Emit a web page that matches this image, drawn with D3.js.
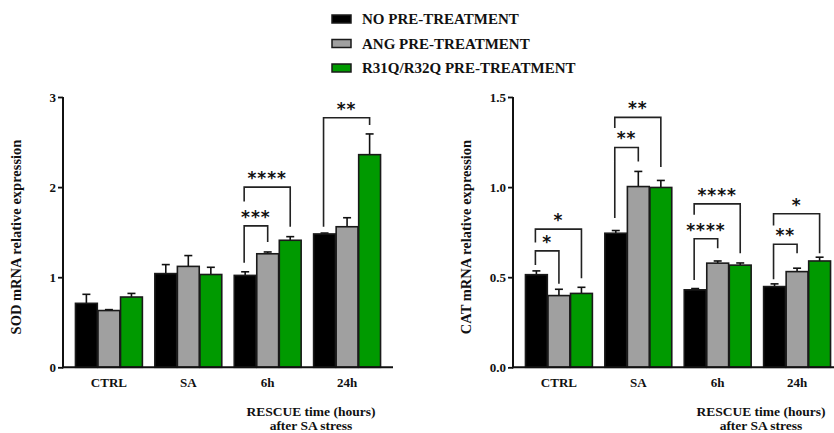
<!DOCTYPE html>
<html>
<head>
<meta charset="utf-8">
<script src="https://cdn.jsdelivr.net/npm/d3@7"></script>
<style>
  html, body { margin: 0; padding: 0; background: #fff; }
  svg { display: block; }
  text { font-family: "Liberation Serif", "DejaVu Serif", serif; font-weight: bold; fill: #111; }
</style>
</head>
<body>
<svg id="chart" width="834" height="433"></svg>
<script>
// Timepoints and treatment groups
const categories = ["CTRL", "SA", "6h", "24h"];
const seriesNames = ["NO PRE-TREATMENT", "ANG PRE-TREATMENT", "R31Q/R32Q PRE-TREATMENT"];
const seriesColors = ["#000000", "#a0a0a0", "#009a00"];

// SOD mRNA: mean and upper error per group
const sodNo   = [0.71, 1.04, 1.02, 1.48];
const sodAng  = [0.63, 1.12, 1.26, 1.56];
const sodR31Q = [0.78, 1.03, 1.41, 2.36];
const sodNoErr   = [0.81, 1.14, 1.06, 1.49];
const sodAngErr  = [0.64, 1.24, 1.28, 1.66];
const sodR31QErr = [0.82, 1.11, 1.45, 2.59];
const sodTicks = [0, 1, 2, 3];

// CAT mRNA: mean and upper error per group
const catNo   = [0.514, 0.744, 0.430, 0.448];
const catAng  = [0.398, 1.003, 0.578, 0.531];
const catR31Q = [0.410, 0.998, 0.567, 0.590];
const catNoErr   = [0.535, 0.759, 0.437, 0.463];
const catAngErr  = [0.433, 1.087, 0.590, 0.550];
const catR31QErr = [0.444, 1.037, 0.579, 0.611];
const catTicks = [0.0, 0.5, 1.0, 1.5];

// Significance brackets: [category, from series, to series, top, left leg end, right leg end, stars]
const sodBrackets = [
  ["6h", 0, 1, 1.57, 1.16, 1.39, "***"],
  ["6h", 0, 2, 2.00, 1.84, 1.56, "****"],
  ["24h", 0, 2, 2.77, 1.56, 2.69, "**"]
];
const catBrackets = [
  ["CTRL", 0, 1, 0.646, 0.568, 0.463, "*"],
  ["CTRL", 0, 2, 0.767, 0.692, 0.494, "*"],
  ["SA", 0, 1, 1.220, 0.828, 1.142, "**"],
  ["SA", 0, 2, 1.387, 1.328, 1.111, "**"],
  ["6h", 0, 1, 0.713, 0.485, 0.661, "****"],
  ["6h", 0, 2, 0.907, 0.846, 0.633, "****"],
  ["24h", 0, 1, 0.683, 0.489, 0.633, "**"],
  ["24h", 0, 2, 0.852, 0.787, 0.633, "*"]
];

const svg = d3.select("#chart");

function drawPanel(opts) {
  const g = svg.append("g");
  const x = d3.scaleBand().domain(categories)
    .range([opts.x0, opts.x0 + 330]).paddingInner(0.157).paddingOuter(0.157);
  const xs = d3.scaleBand().domain(d3.range(seriesNames.length))
    .range([0, x.bandwidth()]).paddingInner(0.03);
  const y = d3.scaleLinear().domain(opts.domain).range([367.3, 97]);

  const values = [opts.no, opts.ang, opts.r31q];
  const errs = [opts.noErr, opts.angErr, opts.r31qErr];

  const rows = [];
  categories.forEach((c, ci) => {
    seriesNames.forEach((s, si) => {
      rows.push({ c, si, v: values[si][ci], e: errs[si][ci] });
    });
  });

  // error bars (upper only)
  const eb = g.append("g").attr("stroke", "#111").attr("stroke-width", 1.6);
  rows.forEach(d => {
    const cx = x(d.c) + xs(d.si) + xs.bandwidth() / 2;
    eb.append("line").attr("x1", cx).attr("x2", cx).attr("y1", y(d.v)).attr("y2", y(d.e));
    eb.append("line").attr("x1", cx - 4).attr("x2", cx + 4).attr("y1", y(d.e)).attr("y2", y(d.e));
  });

  // bars
  g.append("g").selectAll("rect").data(rows).join("rect")
    .attr("x", d => x(d.c) + xs(d.si))
    .attr("width", xs.bandwidth())
    .attr("y", d => y(d.v))
    .attr("height", d => y(opts.domain[0]) - y(d.v))
    .attr("fill", d => seriesColors[d.si])
    .attr("stroke", "#1a1a1a")
    .attr("stroke-width", 1.6);

  // axes
  const yAxis = d3.axisLeft(y).tickValues(opts.ticks).tickSize(5).tickFormat(opts.fmt);
  const ya = g.append("g").attr("transform", `translate(${opts.x0},0)`).call(yAxis);
  ya.select(".domain").attr("stroke", "#111").attr("stroke-width", 2)
    .attr("d", `M0,${y(opts.domain[1])}V${y(opts.domain[0]) + 1}`);
  ya.selectAll(".tick line").attr("stroke", "#111").attr("stroke-width", 1.8);
  ya.selectAll(".tick text").attr("x", -7).style("font-size", "13px")
    .style("font-family", "Liberation Serif").style("font-weight", "bold").attr("fill", "#111");

  const xAxis = d3.axisBottom(x).tickSize(0).tickPadding(10);
  const xa = g.append("g").attr("transform", `translate(0,${y(opts.domain[0])})`).call(xAxis);
  xa.select(".domain").attr("stroke", "#111").attr("stroke-width", 2)
    .attr("d", `M${opts.x0 - 1},0H${opts.x0 + 330}`);
  xa.selectAll(".tick text").style("font-size", "13px")
    .style("font-family", "Liberation Serif").style("font-weight", "bold").attr("fill", "#111");

  // axis titles
  g.append("text")
    .attr("transform", `translate(${opts.x0 - 45},237) rotate(-90)`)
    .attr("text-anchor", "middle").attr("dominant-baseline", "middle")
    .style("font-size", "14.5px").text(opts.yTitle);
  g.append("text").attr("x", opts.x0 + 248).attr("y", 416)
    .attr("text-anchor", "middle").style("font-size", "13.5px").text("RESCUE time (hours)");
  g.append("text").attr("x", opts.x0 + 248).attr("y", 429.5)
    .attr("text-anchor", "middle").style("font-size", "13.5px").text("after SA stress");

  // significance brackets
  const bg = g.append("g");
  opts.brackets.forEach(b => {
    const [c, s1, s2, top, l1, l2, stars] = b;
    const xl = x(c) + xs(s1) + xs.bandwidth() / 2 - 1;
    const xr = x(c) + xs(s2) + xs.bandwidth() / 2;
    bg.append("path")
      .attr("d", `M${xl},${y(l1)}V${y(top)}H${xr}V${y(l2)}`)
      .attr("fill", "none").attr("stroke", "#222").attr("stroke-width", 1.6);
    bg.append("text").attr("x", (xl + xr) / 2).attr("y", y(top) - 3)
      .attr("text-anchor", "middle").style("font-size", "17px")
      .style("font-family", "DejaVu Sans").style("font-weight", "bold")
      .style("letter-spacing", "1px")
      .text(stars);
  });
}

drawPanel({
  x0: 63, domain: [0, 3], ticks: sodTicks, fmt: d3.format("d"),
  no: sodNo, ang: sodAng, r31q: sodR31Q,
  noErr: sodNoErr, angErr: sodAngErr, r31qErr: sodR31QErr,
  brackets: sodBrackets, yTitle: "SOD mRNA relative expression"
});
drawPanel({
  x0: 513, domain: [0, 1.5], ticks: catTicks, fmt: d3.format(".1f"),
  no: catNo, ang: catAng, r31q: catR31Q,
  noErr: catNoErr, angErr: catAngErr, r31qErr: catR31QErr,
  brackets: catBrackets, yTitle: "CAT mRNA relative expression"
});

// legend
const lg = svg.append("g").attr("transform", "translate(332,19)");
seriesNames.forEach((s, i) => {
  const row = lg.append("g").attr("transform", `translate(0,${i * 24.5})`);
  row.append("rect").attr("x", 0).attr("y", -4).attr("width", 19).attr("height", 8)
    .attr("fill", seriesColors[i]).attr("stroke", "#1a1a1a").attr("stroke-width", 1.5);
  row.append("text").attr("x", 30).attr("y", 0).attr("dominant-baseline", "central")
    .style("font-size", "15px").text(s);
});
</script>
</body>
</html>
